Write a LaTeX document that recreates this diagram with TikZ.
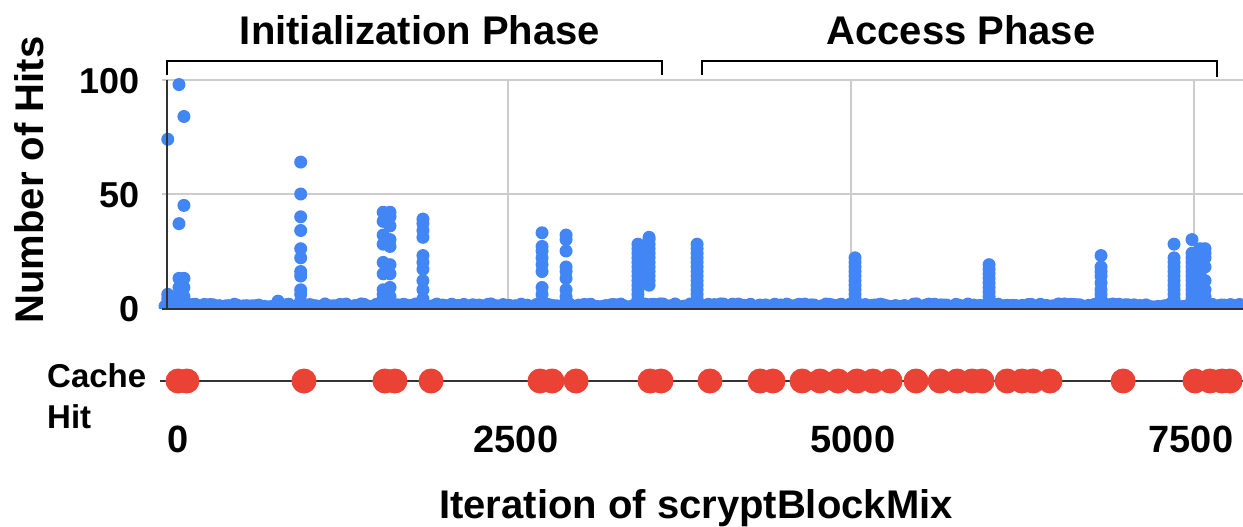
\documentclass[tikz,border=0pt]{standalone}
\usepackage{fontspec}
\setmainfont{Liberation Sans}
\usetikzlibrary{positioning}
\definecolor{hitBlue}{HTML}{4285F4}
\definecolor{cacheRed}{HTML}{EA4335}
\definecolor{gridGray}{HTML}{CCCCCC}
\definecolor{axisGray}{HTML}{333333}

\begin{document}
\begin{tikzpicture}[x=1pt, y=-1pt,
    lbl/.style={font=\fontsize{40}{44}\selectfont\bfseries, inner sep=0pt},
    ylbl/.style={font=\fontsize{36}{40}\selectfont\bfseries, inner sep=0pt, anchor=east},
    xlbl/.style={font=\fontsize{38}{42}\selectfont\bfseries, inner sep=0pt, anchor=base},
    rowlbl/.style={font=\fontsize{33}{37}\selectfont\bfseries, inner sep=0pt, anchor=base west},
    grid line/.style={gridGray, line width=2.5pt},
    axis line/.style={axisGray, line width=2pt},
    bracket/.style={black, line width=2.5pt},
    hit/.style={fill=hitBlue},
    cache/.style={fill=cacheRed},
  ]
  \useasboundingbox (0,0) rectangle (1243,527);

  % phase titles and brackets
  \node[lbl, anchor=base] (initTitle)   at (420,45) {Initialization Phase};
  \node[lbl, anchor=base] (accessTitle) at (961,45) {Access Phase};
  \draw[bracket] (167,75) -- (167,61) -- (662,61) -- (662,75);
  \draw[bracket] (702,75) -- (702,61) -- (1217,61) -- (1217,77);

  % grid
  \foreach \gy in {80,194}
    \draw[grid line] (162,\gy) -- (1243,\gy);
  \foreach \gx in {508,851,1194}
    \draw[grid line] (\gx,80) -- (\gx,308);

  % hits per iteration
  \begin{scope}
    \clip (140,0) rectangle (1243,308);
    \begin{scope}[shift={(165,308)}, x=0.1372pt, y=2.28pt]
      \pgfmathsetseed{42}
      \fill[hit] (0,0) rectangle (7850,2.4);
      \foreach \x in {0,22,...,7850} {
        \pgfmathsetmacro\v{0.4+rnd*1.4}
        \fill[hit] (\x,\v) circle[radius=6.5pt];
      }
      \foreach \x/\vals in {20/{74,6,4,2}, 102/{98,37,13,9,6,4}, 138/{84,45,13,9,5,3},
          824/{3}, 989/{64,50,40,34,26,22,16,14,8,6,3},
          1590/{42,38,32,28,20,15,8,6,4}, 1640/{42,40,36,30,27,19,15,9,5},
          1880/{39,37,34,31,23,20,17,12,8,4}, 2748/{33,27,25,22,19,16,9,6,3},
          2923/{32,30,25,18,16,13,8,5,3}, 3447/{4,6,...,28}, 3528/{10,12,...,30,31},
          3878/{4,6,...,28}, 5029/{4,6,...,22}, 6006/{3,5,...,19},
          6822/{23,18,16,14,11,8,6,4}, 7354/{4,6,...,22,28}, 7485/{4,6,...,24,30},
          7544/{5,7,...,25,26}, 7580/{26,24,22,18,12,8,5}}
        \foreach \v in \vals
          \fill[hit] (\x,\v) circle[radius=6.5pt];
    \end{scope}
  \end{scope}

  % axes
  \draw[axis line] (167,80) -- (167,309);
  \draw[axis line] (162,309) -- (1243,309);
  \node[lbl, rotate=90, anchor=base] (yTitle) at (43,180) {Number of Hits};
  \node[ylbl] (y100) at (140,81)  {100};
  \node[ylbl] (y50)  at (140,195) {50};
  \node[ylbl] (y0)   at (140,309) {0};

  % cache hit row
  \node[rowlbl] (cacheLbl) at (47,387) {Cache};
  \node[rowlbl] (hitLbl)   at (47,428) {Hit};
  \draw[axis line] (160,381) -- (1243,381);
  \begin{scope}[shift={(165,381)}, x=0.1372pt]
    \foreach \x in {95,160,1013,1603,1676,1939,2733,2821,2996,3535,3615,3972,
        4337,4431,4643,4774,4905,5044,5160,5284,5474,5649,5773,5882,5955,
        6137,6246,6327,6450,6983,7507,7616,7704,7762}
      \fill[cache] (\x,0) circle[radius=12.5pt];
  \end{scope}

  \node[xlbl] (x0)    at (178,452)  {0};
  \node[xlbl] (x2500) at (516,452)  {2500};
  \node[xlbl] (x5000) at (853,452)  {5000};
  \node[xlbl] (x7500) at (1191,452) {7500};
  \node[lbl, anchor=base] (xTitle) at (696,518) {Iteration of scryptBlockMix};
\end{tikzpicture}
\end{document}
